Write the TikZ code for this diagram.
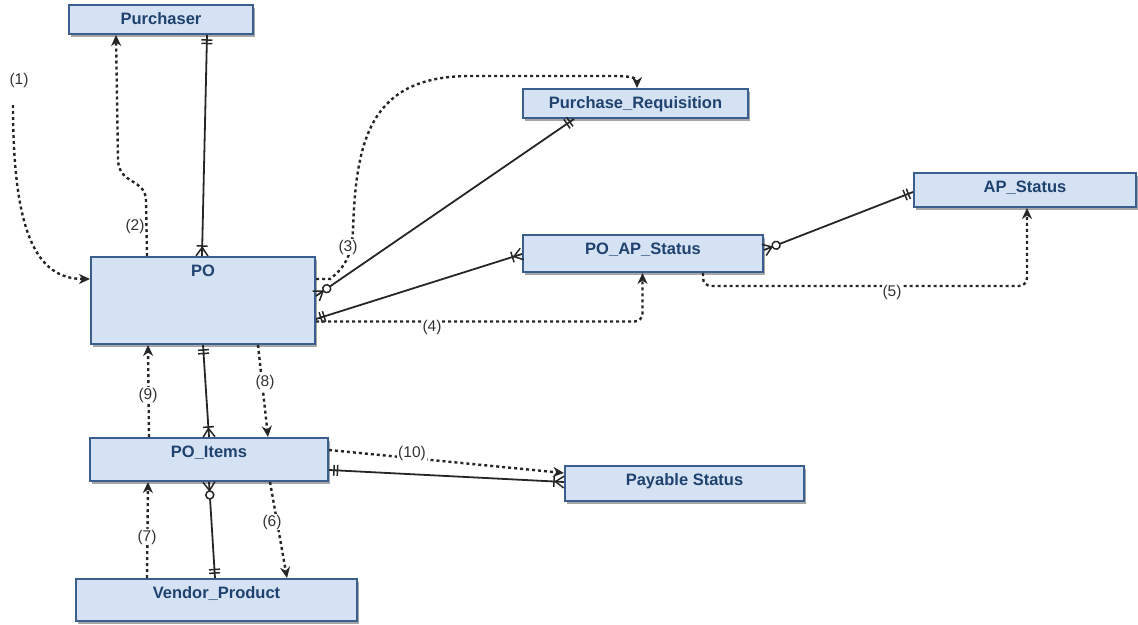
\documentclass[tikz,border=0pt]{standalone}
\usepackage{fontspec}
\setmainfont{Liberation Sans}
\usetikzlibrary{arrows.meta,decorations.markings,shadows,fit}

\definecolor{entfill}{HTML}{D5E2F4}
\definecolor{entline}{HTML}{3A5E8E}
\definecolor{enttext}{HTML}{1F426F}
\definecolor{lbl}{HTML}{333333}

% ER end markers, drawn with the entity at x=0 and the line running towards -x
\newcommand\mkOne{\draw[line width=1.5pt] (-5pt,-5.5pt)--(-5pt,5.5pt) (-8.5pt,-5.5pt)--(-8.5pt,5.5pt);}
\newcommand\mkMany{\draw[line width=1.5pt] (0,-6pt)--(-8.5pt,0)--(0,6pt) (-10pt,-5.5pt)--(-10pt,5.5pt);}
\newcommand\mkZeroMany{\draw[line width=1.5pt] (0,-6pt)--(-8.5pt,0)--(0,6pt);
  \draw[line width=1.5pt,fill=white] (-13pt,0) circle (4pt);}

\tikzset{
  ent/.style={draw=entline, line width=2pt, fill=entfill, inner sep=0pt,
    drop shadow={shadow xshift=1.5pt, shadow yshift=-2.5pt, fill=black, opacity=.35}},
  enttxt/.style={text=enttext, font=\fontsize{16.5}{19}\selectfont\bfseries,
    inner sep=0pt, anchor=base},
  num/.style={text=lbl, font=\fontsize{15.5}{18}\selectfont, fill=white, inner sep=1pt},
  rel/.style={draw=black!85, line width=1.8pt},
  flow/.style={draw=black!85, line width=2.4pt, dash pattern=on 3pt off 3pt,
    -{Stealth[length=11pt,width=10pt,inset=3.5pt]}},
  atstart/.style={postaction={decorate,decoration={markings,
    mark=at position 0 with {\begin{scope}[xscale=-1]#1\end{scope}}}}},
  atend/.style={postaction={decorate,decoration={markings,
    mark=at position 1 with {#1}}}},
}

% entity box from its corners, name set near the top edge
\newcommand\entity[6]{%
  \node[ent, fit={(#2,#3) (#4,#5)}] (#1) {};
  \node[enttxt] (#1-name) at ({(#2+#4)/2},{#3+19.5}) {#6};
}

\begin{document}
\begin{tikzpicture}[x=1pt,y=-1pt]
\useasboundingbox (0,0) rectangle (1138,624);

% entities
\entity{purch}{69}{5}{253}{34}{Purchaser}
\entity{pr}{523}{89}{748}{118}{Purchase\_Requisition}
\entity{apst}{914}{173}{1136}{207}{AP\_Status}
\entity{poap}{523}{235}{763}{272}{PO\_AP\_Status}
\entity{po}{91}{257}{315}{344}{PO}
\entity{poi}{90}{438}{328}{481}{PO\_Items}
\entity{pay}{565}{466}{804}{501}{Payable Status}
\entity{vp}{76}{579}{357}{621}{Vendor\_Product}

% relationships
\draw[rel, atstart=\mkOne, atend=\mkMany] ([xshift=46pt]purch.south) -- ([xshift=-1pt]po.north);
\draw[rel, atstart=\mkZeroMany, atend=\mkOne] ([yshift=4.5pt]po.east) -- ([xshift=-61.5pt]pr.south);
\draw[rel, atstart=\mkOne, atend=\mkMany] ([yshift=-18.5pt]po.east) -- ([yshift=-0.5pt]poap.west);
\draw[rel, atstart=\mkZeroMany, atend=\mkOne] ([yshift=3.5pt]poap.east) -- ([yshift=-2pt]apst.west);
\draw[rel, atstart=\mkOne, atend=\mkMany] (po.south) -- (poi.north);
\draw[rel, atstart=\mkZeroMany, atend=\mkOne] (poi.south) -- ([xshift=-1.5pt]vp.north);
\draw[rel, atstart=\mkOne, atend=\mkMany] ([yshift=-10.5pt]poi.east) -- ([yshift=1.5pt]pay.west);

% numbered process flows
\coordinate (f1) at (13,105);
\draw[flow] (f1) .. controls (13,232) and (36,279) .. ([yshift=21.5pt]po.west);
\draw[flow] ([xshift=-56pt]po.north) -- (146,200) .. controls (145,178) and (119,185) .. (118,160)
  -- ([xshift=-45pt]purch.south);
\draw[flow] ([yshift=21.5pt]po.east) -- (330,279) .. controls (347,266) and (352,252) .. (353,230)
  .. controls (356,140) and (370,76) .. (470,76) -- (612,76)
  .. controls (632,76) and (637,78) .. ([xshift=1.5pt]pr.north);
\draw[flow, rounded corners=8pt] ([yshift=-21pt]po.east) -| ([xshift=-0.5pt]poap.south);
\draw[flow, rounded corners=8pt] ([xshift=60pt]poap.south) -- ++(0,13) -| ([xshift=2pt]apst.south);
\draw[flow] ([xshift=61pt]poi.south) -- ([xshift=70.5pt]vp.north);
\draw[flow] ([xshift=-69.5pt]vp.north) -- ([xshift=-61pt]poi.south);
\draw[flow] ([xshift=55pt]po.south) -- ([xshift=59pt]poi.north);
\draw[flow] ([xshift=-60pt]poi.north) -- ([xshift=-55pt]po.south);
\draw[flow] ([yshift=9.5pt]poi.east) -- ([yshift=10.5pt]pay.west);

% flow numbers
\node[num] (n1) at (19,80) {(1)};
\node[num] (n2) at (135,226) {(2)};
\node[num] (n3) at (348,247) {(3)};
\node[num] (n4) at (432,327) {(4)};
\node[num] (n5) at (892,292) {(5)};
\node[num] (n6) at (272,522) {(6)};
\node[num] (n7) at (147,537) {(7)};
\node[num] (n8) at (265,382) {(8)};
\node[num] (n9) at (148,395) {(9)};
\node[num] (n10) at (412,453) {(10)};
\end{tikzpicture}
\end{document}
